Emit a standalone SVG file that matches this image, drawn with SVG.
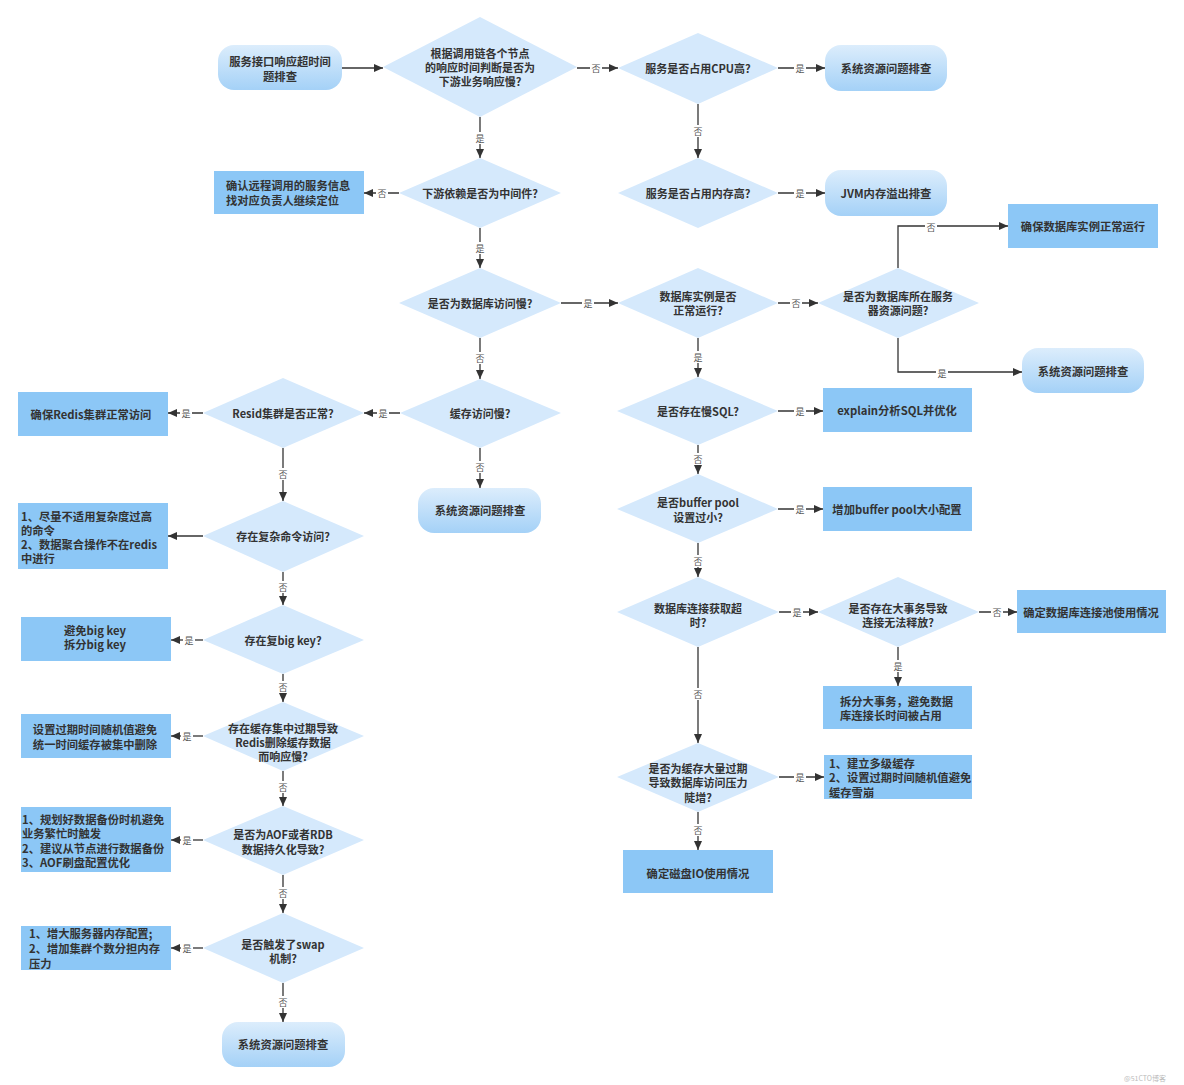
<svg xmlns="http://www.w3.org/2000/svg" width="1184" height="1085" viewBox="0 0 1184 1085">
<style>
text{font-family:"Noto Sans CJK SC","Liberation Sans",sans-serif;}
.t{font-size:11px;font-weight:bold;fill:#333;text-anchor:middle;dominant-baseline:central;}
.tb{font-size:11.3px;font-weight:bold;fill:#333;text-anchor:middle;dominant-baseline:central;}
.tl{font-size:11.3px;font-weight:bold;fill:#333;text-anchor:start;dominant-baseline:central;}
.dia{fill:#d5e9fc;}
.box{fill:#8cc7f6;}
.rnd{fill:url(#g);}
.ln{fill:none;stroke:#333;stroke-width:1.3;marker-end:url(#arr);}
.lbl{font-size:9px;fill:#555;text-anchor:middle;dominant-baseline:central;}
.lb{fill:#fff;}
</style>
<defs>
<linearGradient id="g" x1="0" y1="0" x2="0" y2="1">
<stop offset="0" stop-color="#dcedfc"/>
<stop offset="1" stop-color="#a4d1f7"/>
</linearGradient>
<marker id="arr" viewBox="0 0 9 8" refX="9" refY="4" markerWidth="9" markerHeight="8" markerUnits="userSpaceOnUse" orient="auto"><path d="M0,0 L9,4 L0,8 z" fill="#333"/></marker>
</defs>
<rect width="1184" height="1085" fill="#fff"/>

<g id="connectors">
<path class="ln" d="M342,68 H383"/>
<path class="ln" d="M577,68 H618"/>
<path class="ln" d="M778,68 H825"/>
<path class="ln" d="M698,104 V158"/>
<path class="ln" d="M778,193 H825"/>
<path class="ln" d="M480,117 V158"/>
<path class="ln" d="M399,193 H364"/>
<path class="ln" d="M480,228 V268"/>
<path class="ln" d="M561,303 H618"/>
<path class="ln" d="M778,303 H818"/>
<path class="ln" d="M898,268 V226 H1008"/>
<path class="ln" d="M898,338 V372 H1022"/>
<path class="ln" d="M698,338 V377"/>
<path class="ln" d="M778,411 H823"/>
<path class="ln" d="M698,445 V474"/>
<path class="ln" d="M778,509 H823"/>
<path class="ln" d="M698,543 V577"/>
<path class="ln" d="M779,612 H818"/>
<path class="ln" d="M979,612 H1017"/>
<path class="ln" d="M898,647 V686"/>
<path class="ln" d="M698,647 V743"/>
<path class="ln" d="M779,777 H824"/>
<path class="ln" d="M698,812 V850"/>
<path class="ln" d="M480,338 V379"/>
<path class="ln" d="M400,413 H364"/>
<path class="ln" d="M480,448 V488"/>
<path class="ln" d="M203,413 H168"/>
<path class="ln" d="M283,448 V501"/>
<path class="ln" d="M203,536 H168"/>
<path class="ln" d="M283,572 V605"/>
<path class="ln" d="M203,640 H171"/>
<path class="ln" d="M283,674 V702"/>
<path class="ln" d="M203,736 H171"/>
<path class="ln" d="M283,771 V806"/>
<path class="ln" d="M203,840 H171"/>
<path class="ln" d="M283,875 V913"/>
<path class="ln" d="M203,948 H171"/>
<path class="ln" d="M283,983 V1022"/>

<g id="labels">
<rect class="lb" x="590" y="62" width="12" height="12"/><text class="lbl" x="596" y="68">否</text>
<rect class="lb" x="794" y="62" width="12" height="12"/><text class="lbl" x="800" y="68">是</text>
<rect class="lb" x="692" y="125" width="12" height="12"/><text class="lbl" x="698" y="131">否</text>
<rect class="lb" x="794" y="187" width="12" height="12"/><text class="lbl" x="800" y="193">是</text>
<rect class="lb" x="474" y="132" width="12" height="12"/><text class="lbl" x="480" y="138">是</text>
<rect class="lb" x="376" y="187" width="12" height="12"/><text class="lbl" x="382" y="193">否</text>
<rect class="lb" x="474" y="242" width="12" height="12"/><text class="lbl" x="480" y="248">是</text>
<rect class="lb" x="582" y="297" width="12" height="12"/><text class="lbl" x="588" y="303">是</text>
<rect class="lb" x="790" y="297" width="12" height="12"/><text class="lbl" x="796" y="303">否</text>
<rect class="lb" x="925" y="220" width="12" height="12"/><text class="lbl" x="931" y="227">否</text>
<rect class="lb" x="936" y="367" width="12" height="12"/><text class="lbl" x="942" y="373">是</text>
<rect class="lb" x="692" y="351" width="12" height="12"/><text class="lbl" x="698" y="357">是</text>
<rect class="lb" x="794" y="405" width="12" height="12"/><text class="lbl" x="800" y="411">是</text>
<rect class="lb" x="692" y="453" width="12" height="12"/><text class="lbl" x="698" y="459">否</text>
<rect class="lb" x="794" y="503" width="12" height="12"/><text class="lbl" x="800" y="509">是</text>
<rect class="lb" x="692" y="555" width="12" height="12"/><text class="lbl" x="698" y="561">否</text>
<rect class="lb" x="791" y="606" width="12" height="12"/><text class="lbl" x="797" y="612">是</text>
<rect class="lb" x="991" y="606" width="12" height="12"/><text class="lbl" x="997" y="612">否</text>
<rect class="lb" x="892" y="660" width="12" height="12"/><text class="lbl" x="898" y="666">是</text>
<rect class="lb" x="692" y="688" width="12" height="12"/><text class="lbl" x="698" y="694">否</text>
<rect class="lb" x="794" y="771" width="12" height="12"/><text class="lbl" x="800" y="777">是</text>
<rect class="lb" x="692" y="824" width="12" height="12"/><text class="lbl" x="698" y="830">否</text>
<rect class="lb" x="474" y="352" width="12" height="12"/><text class="lbl" x="480" y="358">否</text>
<rect class="lb" x="377" y="407" width="12" height="12"/><text class="lbl" x="383" y="413">是</text>
<rect class="lb" x="474" y="461" width="12" height="12"/><text class="lbl" x="480" y="467">否</text>
<rect class="lb" x="180" y="407" width="12" height="12"/><text class="lbl" x="186" y="413">是</text>
<rect class="lb" x="277" y="468" width="12" height="12"/><text class="lbl" x="283" y="474">否</text>
<rect class="lb" x="277" y="581" width="12" height="12"/><text class="lbl" x="283" y="587">否</text>
<rect class="lb" x="183" y="634" width="12" height="12"/><text class="lbl" x="189" y="640">是</text>
<rect class="lb" x="277" y="681" width="12" height="12"/><text class="lbl" x="283" y="687">否</text>
<rect class="lb" x="181" y="730" width="12" height="12"/><text class="lbl" x="187" y="736">是</text>
<rect class="lb" x="277" y="781" width="12" height="12"/><text class="lbl" x="283" y="787">否</text>
<rect class="lb" x="181" y="834" width="12" height="12"/><text class="lbl" x="187" y="840">是</text>
<rect class="lb" x="277" y="887" width="12" height="12"/><text class="lbl" x="283" y="893">否</text>
<rect class="lb" x="181" y="942" width="12" height="12"/><text class="lbl" x="187" y="948">是</text>
<rect class="lb" x="277" y="996" width="12" height="12"/><text class="lbl" x="283" y="1002">否</text>
</g>
</g>

<g id="start"><rect class="rnd" x="218" y="45" width="124" height="45" rx="16"/><text class="tb" x="280"><tspan x="280" y="61">服务接口响应超时间</tspan><tspan x="280" y="76">题排查</tspan></text></g>
<g id="d1"><polygon class="dia" points="383,67 480,17 577,67 480,117"/><text class="t"><tspan x="480" y="53">根据调用链各个节点</tspan><tspan x="480" y="67">的响应时间判断是否为</tspan><tspan x="480" y="81">下游业务响应慢?</tspan></text></g>
<g id="d2"><polygon class="dia" points="618,68 698,33 778,68 698,104"/><text class="t" x="698" y="68">服务是否占用CPU高?</text></g>
<g id="r1"><rect class="rnd" x="825" y="45" width="122" height="46" rx="16"/><text class="tb" x="886" y="68">系统资源问题排查</text></g>
<g id="d4"><polygon class="dia" points="618,193 698,158 778,193 698,228"/><text class="t" x="698" y="193">服务是否占用内存高?</text></g>
<g id="r2"><rect class="rnd" x="825" y="170" width="122" height="46" rx="16"/><text class="tb" x="886" y="193">JVM内存溢出排查</text></g>
<g id="d3"><polygon class="dia" points="399,193 480,158 561,193 480,228"/><text class="t" x="480" y="193">下游依赖是否为中间件?</text></g>
<g id="b1"><rect class="box" x="214" y="171" width="150" height="43"/><text class="tl"><tspan x="226" y="185">确认远程调用的服务信息</tspan><tspan x="226" y="200">找对应负责人继续定位</tspan></text></g>
<g id="d7"><polygon class="dia" points="399,303 480,268 561,303 480,338"/><text class="t" x="480" y="303">是否为数据库访问慢?</text></g>
<g id="d5"><polygon class="dia" points="618,303 698,268 778,303 698,338"/><text class="t"><tspan x="698" y="296">数据库实例是否</tspan><tspan x="698" y="310">正常运行?</tspan></text></g>
<g id="d6"><polygon class="dia" points="818,303 898,268 979,303 898,338"/><text class="t"><tspan x="898" y="296">是否为数据库所在服务</tspan><tspan x="898" y="310">器资源问题?</tspan></text></g>
<g id="b2"><rect class="box" x="1008" y="204" width="150" height="44"/><text class="tb" x="1083" y="226">确保数据库实例正常运行</text></g>
<g id="r3"><rect class="rnd" x="1022" y="348" width="122" height="45" rx="16"/><text class="tb" x="1083" y="371">系统资源问题排查</text></g>
<g id="d8"><polygon class="dia" points="617,411 698,377 778,411 698,445"/><text class="t" x="698" y="411">是否存在慢SQL?</text></g>
<g id="b3"><rect class="box" x="823" y="388" width="149" height="44"/><text class="tb" x="897" y="410">explain分析SQL并优化</text></g>
<g id="d16"><polygon class="dia" points="617,509 698,474 778,509 698,543"/><text class="t"><tspan x="698" y="502">是否buffer pool</tspan><tspan x="698" y="517">设置过小?</tspan></text></g>
<g id="b4"><rect class="box" x="823" y="487" width="149" height="44"/><text class="tb" x="897" y="509">增加buffer pool大小配置</text></g>
<g id="d17"><polygon class="dia" points="617,612 698,577 779,612 698,647"/><text class="t"><tspan x="698" y="608">数据库连接获取超</tspan><tspan x="698" y="622">时?</tspan></text></g>
<g id="d18"><polygon class="dia" points="818,612 898,577 979,612 898,647"/><text class="t"><tspan x="898" y="608">是否存在大事务导致</tspan><tspan x="898" y="622">连接无法释放?</tspan></text></g>
<g id="b5"><rect class="box" x="1017" y="590" width="149" height="43"/><text class="tb" x="1091" y="612">确定数据库连接池使用情况</text></g>
<g id="b6"><rect class="box" x="823" y="686" width="149" height="43"/><text class="tl"><tspan x="840" y="701">拆分大事务，避免数据</tspan><tspan x="840" y="715">库连接长时间被占用</tspan></text></g>
<g id="d19"><polygon class="dia" points="617,777 698,743 779,777 698,812"/><text class="t"><tspan x="698" y="768">是否为缓存大量过期</tspan><tspan x="698" y="782">导致数据库访问压力</tspan><tspan x="698" y="797">陡增?</tspan></text></g>
<g id="b7"><rect class="box" x="824" y="755" width="148" height="44"/><text class="tl"><tspan x="829" y="763">1、建立多级缓存</tspan><tspan x="829" y="777">2、设置过期时间随机值避免</tspan><tspan x="829" y="792">缓存雪崩</tspan></text></g>
<g id="b8"><rect class="box" x="623" y="850" width="150" height="43"/><text class="tb" x="698" y="873">确定磁盘IO使用情况</text></g>
<g id="d9"><polygon class="dia" points="400,413 480,379 561,413 480,448"/><text class="t" x="480" y="413">缓存访问慢?</text></g>
<g id="r4"><rect class="rnd" x="418" y="488" width="123" height="45" rx="16"/><text class="tb" x="480" y="510">系统资源问题排查</text></g>
<g id="d10"><polygon class="dia" points="203,413 283,378 364,413 283,448"/><text class="t" x="283" y="413">Resid集群是否正常?</text></g>
<g id="b9"><rect class="box" x="18" y="392" width="150" height="44"/><text class="tb" x="91" y="414">确保Redis集群正常访问</text></g>
<g id="d11"><polygon class="dia" points="203,536 283,501 364,536 283,572"/><text class="t" x="283" y="536">存在复杂命令访问?</text></g>
<g id="b10"><rect class="box" x="18" y="503" width="150" height="66"/><text class="tl"><tspan x="21" y="516">1、尽量不适用复杂度过高</tspan><tspan x="21" y="530">的命令</tspan><tspan x="21" y="544">2、数据聚合操作不在redis</tspan><tspan x="21" y="558">中进行</tspan></text></g>
<g id="d12"><polygon class="dia" points="203,640 283,605 364,640 283,674"/><text class="t" x="283" y="640">存在复big key?</text></g>
<g id="b11"><rect class="box" x="21" y="617" width="150" height="44"/><text class="tb"><tspan x="95" y="630">避免big key</tspan><tspan x="95" y="644">拆分big key</tspan></text></g>
<g id="d13"><polygon class="dia" points="203,736 283,702 364,736 283,771"/><text class="t"><tspan x="283" y="728">存在缓存集中过期导致</tspan><tspan x="283" y="742">Redis删除缓存数据</tspan><tspan x="283" y="756">而响应慢?</tspan></text></g>
<g id="b12"><rect class="box" x="21" y="714" width="150" height="44"/><text class="tb"><tspan x="95" y="729">设置过期时间随机值避免</tspan><tspan x="95" y="744">统一时间缓存被集中删除</tspan></text></g>
<g id="d14"><polygon class="dia" points="203,840 283,806 364,840 283,875"/><text class="t"><tspan x="283" y="834">是否为AOF或者RDB</tspan><tspan x="283" y="849">数据持久化导致?</tspan></text></g>
<g id="b13"><rect class="box" x="21" y="807" width="150" height="65"/><text class="tl"><tspan x="22" y="819">1、规划好数据备份时机避免</tspan><tspan x="22" y="833">业务繁忙时触发</tspan><tspan x="22" y="848">2、建议从节点进行数据备份</tspan><tspan x="22" y="862">3、AOF刷盘配置优化</tspan></text></g>
<g id="d15"><polygon class="dia" points="203,948 283,913 364,948 283,983"/><text class="t"><tspan x="283" y="944">是否触发了swap</tspan><tspan x="283" y="958">机制?</tspan></text></g>
<g id="b14"><rect class="box" x="21" y="926" width="150" height="44"/><text class="tl"><tspan x="29" y="933">1、增大服务器内存配置;</tspan><tspan x="29" y="948">2、增加集群个数分担内存</tspan><tspan x="29" y="963">压力</tspan></text></g>
<g id="r5"><rect class="rnd" x="222" y="1022" width="123" height="45" rx="16"/><text class="tb" x="283" y="1044">系统资源问题排查</text></g>
<text x="1145" y="1078" style="font-size:7px;fill:#bbb;text-anchor:middle;dominant-baseline:central;">@51CTO博客</text>
</svg>
